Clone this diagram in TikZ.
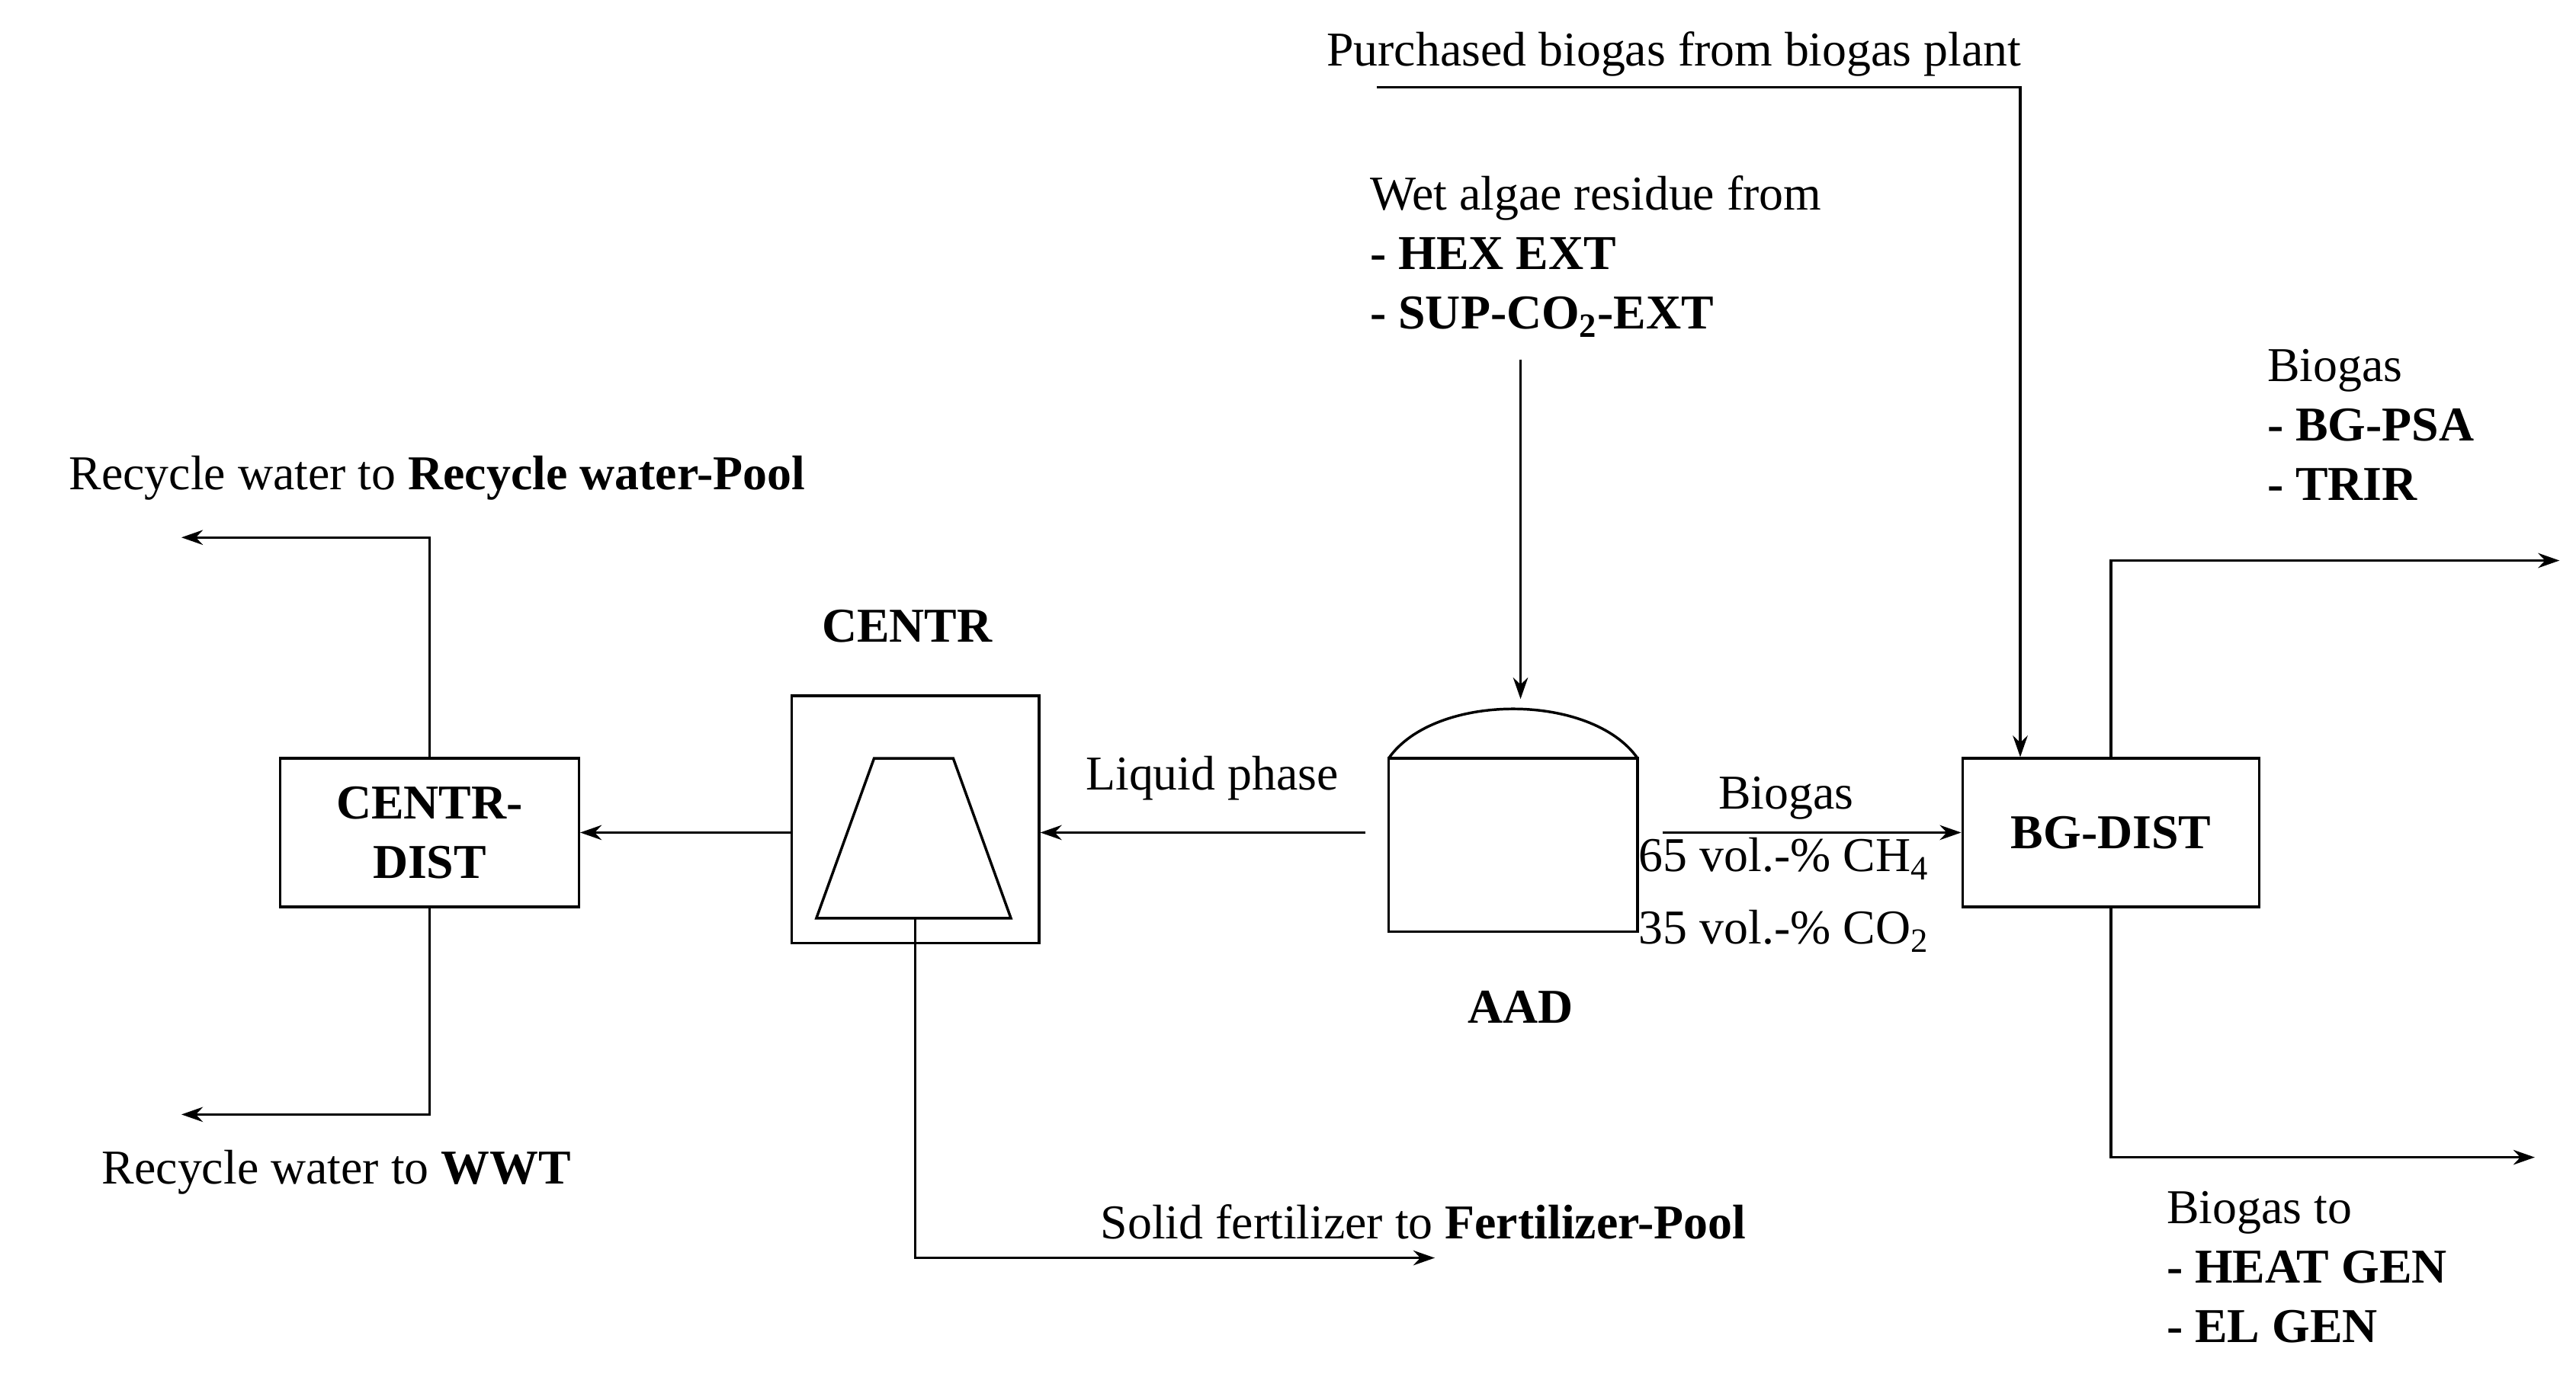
\documentclass[tikz,border=0pt]{standalone}
\usepackage{fontspec}
\setmainfont{Liberation Serif}
\usetikzlibrary{arrows.meta}
\newcommand{\fs}{\fontsize{29.5}{36}\selectfont}
\begin{document}
\begin{tikzpicture}[x=1pt,y=-1pt,line width=1.6pt,
  box/.style={draw,minimum width=181pt,minimum height=90pt,align=center,font=\fs\bfseries},
  arr/.style={-{Stealth[length=13pt,width=9pt]}},
  lbl/.style={inner sep=0pt,font=\fs},
  bl/.style={inner sep=0pt,font=\fs\bfseries}]
\useasboundingbox (0,0) rectangle (1562,841);
\node[box] (cd) at (260.5,505) {CENTR-\\DIST};
\node[draw,minimum width=150pt,minimum height=150pt] (c) at (555,497) {};
\draw (530,460) -- (578,460) -- (613,557) -- (495,557) -- cycle;
\node[bl] (cl) at (550,380) {CENTR};
\draw (842,565) -- (842,460) -- (993,460) -- (993,565) -- cycle;
\draw (842,460) .. controls (870,420) and (965,420) .. (993,460);
\coordinate (aadL) at (828,505);
\coordinate (aadR) at (1008,505);
\node[bl] (al) at (922,611) {AAD};
\node[box,minimum width=180pt] (bg) at (1280,505) {BG-DIST};
\draw[arr] (aadL) -- (c.east |- aadL);
\node[lbl] (lp) at (735,472) {Liquid phase};
\draw[arr] (c.west |- cd) -- (cd.east);
\coordinate (r1) at (110,326);
\coordinate (r2) at (110,676);
\draw[arr] (cd.north) |- (r1);
\draw[arr] (cd.south) |- (r2);
\node[lbl] (t1) at (265,290) {Recycle water to \textbf{Recycle water-Pool}};
\node[lbl] (t2) at (204,711) {Recycle water to \textbf{WWT}};
\coordinate (s0) at (555,557);
\coordinate (s1) at (870,763);
\draw[arr] (s0) |- (s1);
\node[lbl] (t3) at (863,741) {Solid fertilizer to \textbf{Fertilizer-Pool}};
\coordinate (w0) at (922,218);
\coordinate (w1) at (922,424);
\draw[arr] (w0) -- (w1);
\node[lbl,anchor=north west,align=left] (t4) at (830,106) {Wet algae residue from\\\textbf{- HEX EXT}\\\textbf{- SUP-CO\textsubscript{2}-EXT}};
\coordinate (p0) at (835,53);
\draw[arr] (p0) -| (bg.north -| 1225,0);
\node[lbl] (t5) at (1015,33) {Purchased biogas from biogas plant};
\draw[arr] (aadR) -- (bg.west);
\node[lbl] (t6) at (1083,484) {Biogas};
\node[lbl,anchor=west] (t7) at (993,521) {65 vol.-\% CH\textsubscript{4}};
\node[lbl,anchor=west] (t8) at (993,565) {35 vol.-\% CO\textsubscript{2}};
\coordinate (o1) at (1552,340);
\coordinate (o2) at (1537,702);
\draw[arr] (bg.north) |- (o1);
\draw[arr] (bg.south) |- (o2);
\node[lbl,anchor=north west,align=left] (t9) at (1374,211) {Biogas\\\textbf{- BG-PSA}\\\textbf{- TRIR}};
\node[lbl,anchor=north west,align=left] (t10) at (1313,722) {Biogas to\\\textbf{- HEAT GEN}\\\textbf{- EL GEN}};
\end{tikzpicture}
\end{document}
